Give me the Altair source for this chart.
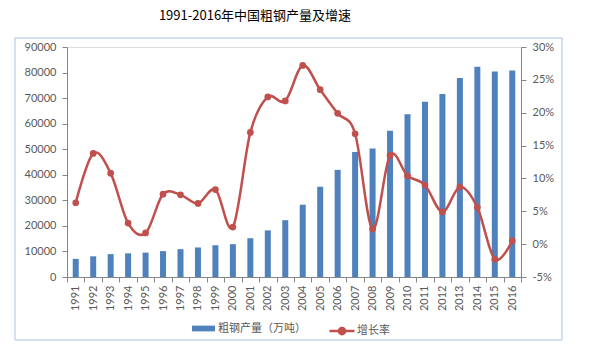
import altair as alt
import pandas as pd

years = [str(y) for y in range(1991, 2017)]
production = [7100, 8094, 8956, 9261, 9536, 10124, 10894, 11559, 12426, 12850,
              15163, 18237, 22234, 28291, 35324, 41915, 48929, 50306, 57218, 63723,
              68528, 71654, 77904, 82231, 80383, 80837]
growth = [6.3, 13.8, 10.8, 3.2, 1.7, 7.6, 7.5, 6.2, 8.3, 2.6,
          17.0, 22.4, 21.8, 27.2, 23.5, 19.9, 16.8, 2.3, 13.5, 10.4,
          9.0, 4.9, 8.7, 5.6, -2.3, 0.5]
bar_name = "粗钢产量（万吨）"
line_name = "增长率"

df = pd.DataFrame({
    "year": years,
    "prod": production,
    "rate": [g / 100 for g in growth],
    "s1": bar_name,
    "s2": line_name,
})

BLUE = "#4F81BD"
RED = "#C0504D"
GRAY = "#595959"
AX = "#868686"
FONT = "Lato"
CJK = "Noto Sans CJK SC"

x = alt.X("year:N", sort=years, title=None,
          scale=alt.Scale(paddingInner=0, paddingOuter=0),
          axis=alt.Axis(labelAngle=-90, labelFont=FONT, labelFontSize=11,
                        labelColor=GRAY, domainColor=AX, tickColor=AX,
                        tickSize=5, tickBand="extent", labelPadding=3,
                        labelBaseline="middle", labelAlign="right"))

bars = alt.Chart(df).mark_bar(size=6, color=BLUE).encode(
    x=x,
    y=alt.Y("prod:Q", title=None,
            scale=alt.Scale(domain=[0, 90000], nice=False),
            axis=alt.Axis(orient="left", values=list(range(0, 90001, 10000)),
                          format="d", labelFont=FONT, labelFontSize=11,
                          labelColor=GRAY, domainColor=AX, tickColor=AX,
                          tickSize=5, labelPadding=6, grid=False)),
    color=alt.Color("s1:N", scale=alt.Scale(domain=[bar_name], range=[BLUE]),
                    legend=alt.Legend(title=None, orient="none", legendX=125, legendY=270,
                                      symbolType="M-1,-0.25H1V0.25H-1Z", symbolSize=529,
                                      symbolStrokeWidth=0, labelFont=CJK, labelFontSize=11,
                                      labelColor=GRAY, labelOffset=3)),
)

ry = alt.Y("rate:Q", title=None,
           scale=alt.Scale(domain=[-0.05, 0.30], nice=False),
           axis=alt.Axis(orient="right", values=[-0.05, 0, 0.05, 0.1, 0.15, 0.2, 0.25, 0.3],
                         labelExpr="round(datum.value*100) + '%'", labelFont=FONT,
                         labelFontSize=11, labelColor=GRAY, domainColor=AX,
                         tickColor=AX, tickSize=5, labelPadding=6, grid=False))

line = alt.Chart(df).mark_line(interpolate="cardinal", strokeWidth=2.5, color=RED).encode(
    x=x, y=ry,
    color=alt.Color("s2:N", scale=alt.Scale(domain=[line_name], range=[RED]),
                    legend=alt.Legend(title=None, orient="none", legendX=261, legendY=270,
                                      symbolType="M-1,0H1M-0.25,0A0.25,0.25,0,1,1,0.25,0A0.25,0.25,0,1,1,-0.25,0Z",
                                      symbolSize=625, labelFont=CJK, labelFontSize=11,
                                      labelColor=GRAY, labelOffset=1,
                                      symbolStrokeWidth=2.5,
                                      symbolStrokeColor=RED, symbolFillColor=RED)),
)
pts = alt.Chart(df).mark_circle(size=45, color=RED, opacity=1).encode(x=x, y=ry)

frame = alt.Chart(pd.DataFrame({"a": [0]})).mark_rect(
    filled=False, stroke="#A7C1E3", strokeWidth=1
).encode(x=alt.value(-52), x2=alt.value(495), y=alt.value(-9), y2=alt.value(293))

chart = alt.layer(frame, bars, alt.layer(line, pts)).resolve_scale(
    y="independent", color="independent"
).properties(
    width=454, height=230,
    title=alt.TitleParams("1991-2016年中国粗钢产量及增速", font=CJK, fontSize=13,
                          fontWeight="normal", color="#000000", anchor="middle",
                          dx=-39, offset=15),
    autosize=alt.AutoSizeParams(type="none"),
    padding={"left": 67, "top": 47, "right": 72, "bottom": 78},
).configure_view(stroke=None).configure(background="white")

chart.save("out.html", embed_options={"renderer": "svg", "actions": False})
